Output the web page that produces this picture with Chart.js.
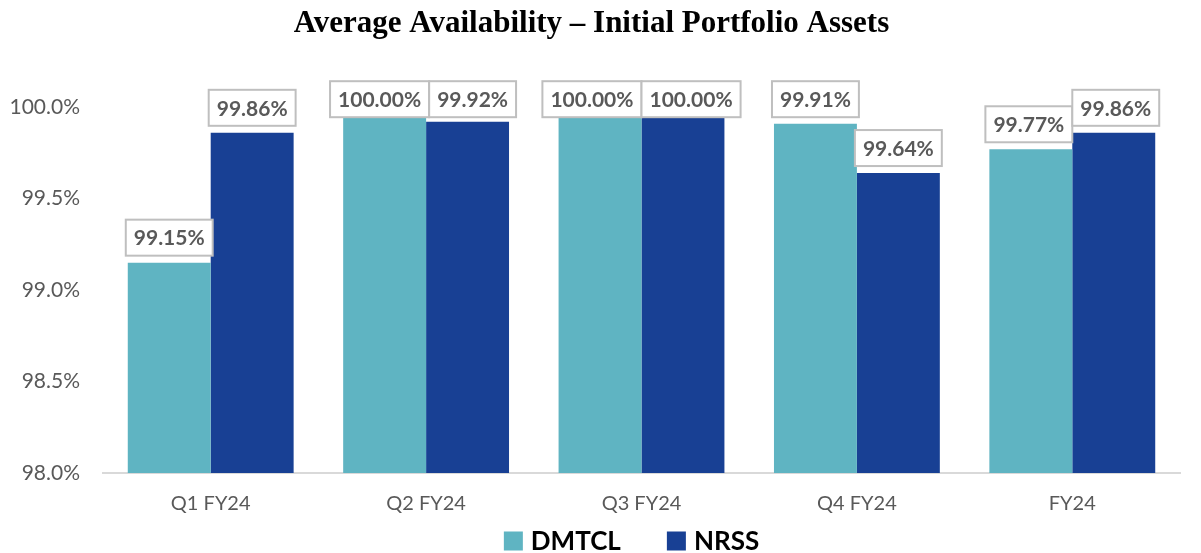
<!DOCTYPE html>
<html>
<head>
<meta charset="utf-8">
<script src="https://cdn.jsdelivr.net/npm/chart.js@4.4.1/dist/chart.umd.min.js"></script>
<style>
  html, body { margin: 0; padding: 0; background: #fff; }
  #wrap { width: 1201px; height: 553px; }
</style>
</head>
<body>
<div id="wrap"><canvas id="avail-chart" width="1201" height="553"></canvas></div>
<script>
// ===== Data =====
const categories = ['Q1 FY24', 'Q2 FY24', 'Q3 FY24', 'Q4 FY24', 'FY24'];
const dmtclValues = [99.15, 100.00, 100.00, 99.91, 99.77];
const nrssValues = [99.86, 99.92, 100.00, 99.64, 99.86];
const yTicks = [98.0, 98.5, 99.0, 99.5, 100.0];

const TEAL = '#5fb4c2';
const NAVY = '#184094';
const GREY_TEXT = '#595959';

// boxed value labels above each bar (Excel style)
const boxLabels = {
    id: 'boxLabels',
    afterDatasetsDraw(chart) {
        const ctx = chart.ctx;
        const area = chart.chartArea;
        ctx.save();
        ctx.font = 'bold 21px Lato';
        const padX = 8, boxH = 36, gap = 7;
        const boxes = [];
        chart.data.datasets.forEach((ds, di) => {
            const meta = chart.getDatasetMeta(di);
            meta.data.forEach((bar, i) => {
                const text = ds.data[i].toFixed(2) + '%';
                const w = ctx.measureText(text).width + padX * 2;
                let top = bar.y - gap - boxH;
                top = Math.max(top, area.top - 26);
                boxes.push({ di, i, text, w, cx: bar.x, top });
            });
        });
        // push apart boxes of the same category when they collide
        categories.forEach((_, i) => {
            const a = boxes.find(b => b.di === 0 && b.i === i);
            const b = boxes.find(b => b.di === 1 && b.i === i);
            const overlapX = (a.cx + a.w / 2) - (b.cx - b.w / 2);
            const overlapY = Math.abs(a.top - b.top) < boxH;
            if (overlapX > 0 && overlapY) {
                a.cx -= overlapX / 2;
                b.cx += overlapX / 2;
            }
        });
        boxes.forEach(b => {
            const x = b.cx - b.w / 2;
            ctx.fillStyle = '#ffffff';
            ctx.fillRect(x, b.top, b.w, boxH);
            ctx.strokeStyle = '#bfbfbf';
            ctx.lineWidth = 2;
            ctx.strokeRect(x, b.top, b.w, boxH);
            ctx.fillStyle = GREY_TEXT;
            ctx.textAlign = 'center';
            ctx.textBaseline = 'middle';
            ctx.fillText(b.text, b.cx, b.top + boxH / 2 + 1);
        });
        ctx.restore();
    }
};

// legend drawn by hand so item spacing and vertical spot can match
const bottomLegend = {
    id: 'bottomLegend',
    afterDraw(chart) {
        const ctx = chart.ctx;
        const area = chart.chartArea;
        const box = 19, textGap = 8, itemGap = 46, y = 541;
        ctx.save();
        ctx.font = 'bold 26px Lato';
        const items = chart.data.datasets.map(ds => ({
            text: ds.label, color: ds.backgroundColor, w: ctx.measureText(ds.label).width
        }));
        const total = items.reduce((s, it) => s + box + textGap + it.w, 0) + itemGap * (items.length - 1);
        let x = (area.left + area.right) / 2 - 10 - total / 2;
        items.forEach(it => {
            ctx.fillStyle = it.color;
            ctx.fillRect(x, y - box / 2, box, box);
            x += box + textGap;
            ctx.fillStyle = '#000';
            ctx.textAlign = 'left';
            ctx.textBaseline = 'middle';
            ctx.fillText(it.text, x, y + 1);
            x += it.w + itemGap;
        });
        ctx.restore();
    }
};

const chart = new Chart(document.getElementById('avail-chart').getContext('2d'), {
    type: 'bar',
    data: {
        labels: categories,
        datasets: [
            { label: 'DMTCL', data: dmtclValues, backgroundColor: TEAL, categoryPercentage: 0.77, barPercentage: 1.0 },
            { label: 'NRSS', data: nrssValues, backgroundColor: NAVY, categoryPercentage: 0.77, barPercentage: 1.0 }
        ]
    },
    options: {
        responsive: false,
        animation: false,
        layout: { padding: { left: 3, right: 21, top: 0, bottom: 26 } },
        plugins: {
            title: {
                display: true,
                text: 'Average Availability \u2013 Initial Portfolio Assets',
                color: '#000',
                font: { family: 'Liberation Serif', size: 31, weight: 'bold' },
                padding: { top: 5, bottom: 65 }
            },
            legend: { display: false },
            tooltip: { enabled: false }
        },
        scales: {
            x: {
                grid: { display: false },
                border: { color: '#d9d9d9', width: 2 },
                ticks: { color: GREY_TEXT, font: { family: 'Lato', size: 20 }, padding: 11 }
            },
            y: {
                min: 98,
                max: 100,
                afterBuildTicks: axis => { axis.ticks = yTicks.map(v => ({ value: v })); },
                afterFit: axis => { axis.width = 100; },
                grid: { display: false },
                border: { display: false },
                ticks: {
                    color: GREY_TEXT,
                    font: { family: 'Lato', size: 21 },
                    padding: 15,
                    callback: v => v.toFixed(1) + '%'
                }
            }
        }
    },
    plugins: [boxLabels, bottomLegend]
});
</script>
</body>
</html>
